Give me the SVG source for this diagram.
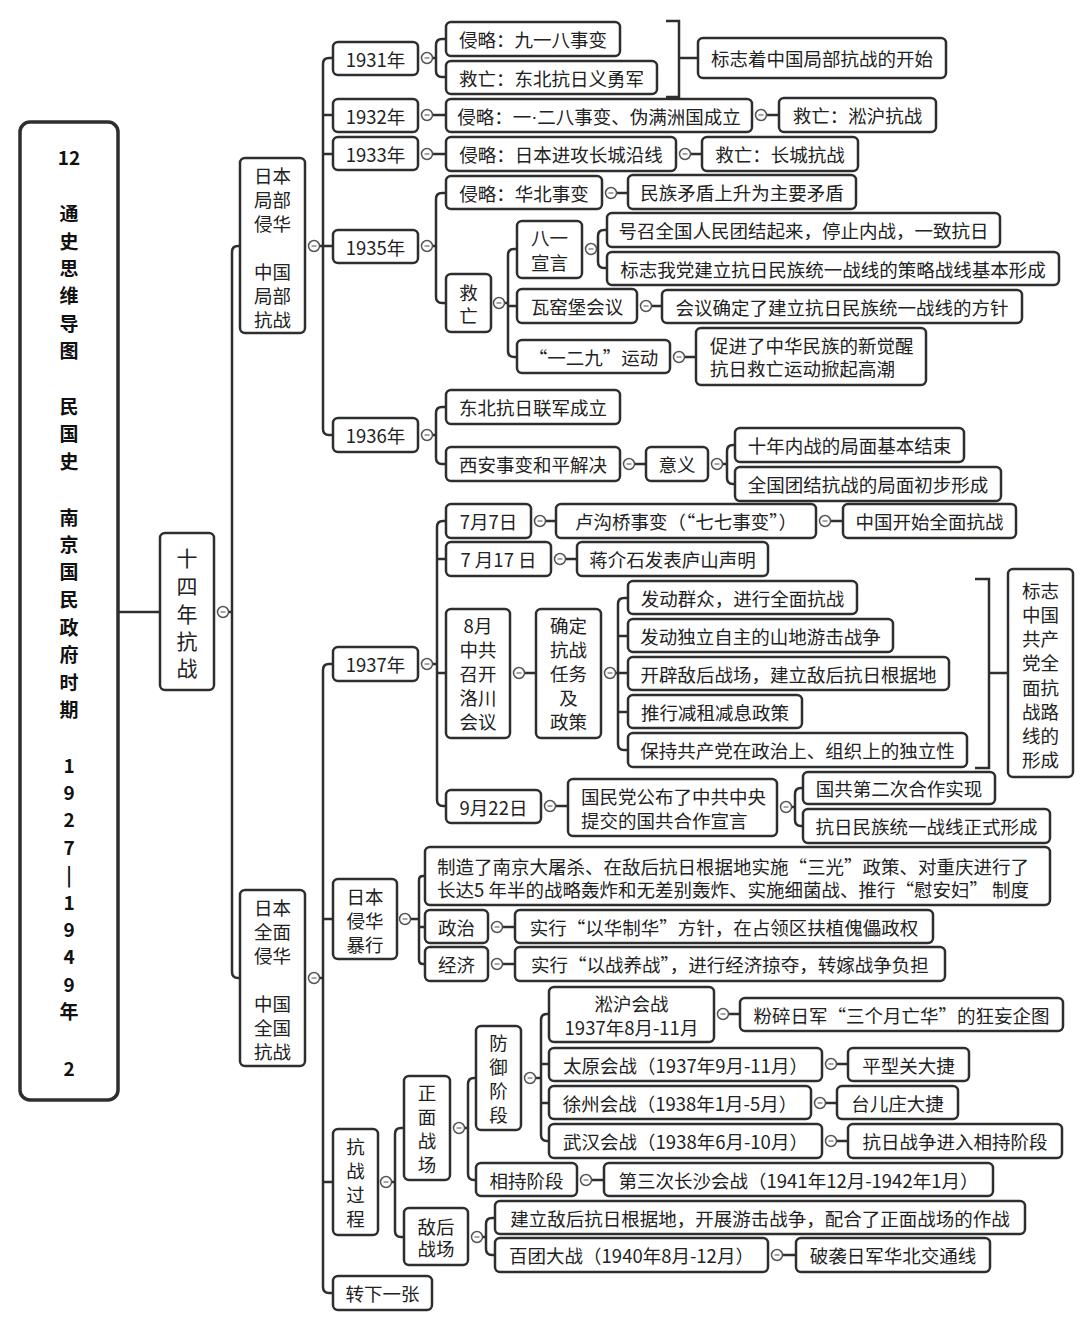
<svg xmlns="http://www.w3.org/2000/svg" xmlns:xlink="http://www.w3.org/1999/xlink" width="1080" height="1329" viewBox="0 0 1080 1329">
<style>
.b{fill:#fff;stroke:#2e2e2e;stroke-width:2.5}
.t{font-family:"Noto Sans CJK SC","Noto Sans",sans-serif;font-size:18.5px;fill:#222;text-anchor:middle;dominant-baseline:central}
.l{text-anchor:start}
.r{font-weight:bold;font-size:19px;fill:#111}
.big{font-size:21px}
.ln{fill:none;stroke:#2e2e2e;stroke-width:2.5}
.tg circle{fill:#fff;stroke:#555;stroke-width:1.5}
.tg line{stroke:#888;stroke-width:1.5}
</style>
<defs>
<g id="tog" class="tg"><circle r="5.5"/><line x1="-2.5" y1="0" x2="2.5" y2="0"/></g>
</defs>
<rect width="1080" height="1329" fill="#fff"/>

<g id="connectors">
<path class="ln" d="M118,612 H160"/>
<path class="ln" d="M228.5,612 H232 M240,246 H238 Q232,246 232,252 V972 Q232,978 238,978 H240"/>
<path class="ln" d="M319.5,246 H323 M333,58 H329 Q323,58 323,64 V429 Q323,435 329,435 H333 M323,115 H333 M323,154 H333 M323,246 H333"/>
<path class="ln" d="M432.5,58 H436 M446,39 H442 Q436,39 436,45 V71 Q436,77 442,77 H446"/>
<path class="ln" d="M666,21 H679 V97 H666 M679,58 H698"/>
<path class="ln" d="M432.5,115 H446 M766.5,115 H779"/>
<path class="ln" d="M432.5,154 H446 M690.5,154 H702"/>
<path class="ln" d="M432.5,246 H436 M446,193 H442 Q436,193 436,199 V297 Q436,303 442,303 H446"/>
<path class="ln" d="M616.5,193 H628"/>
<path class="ln" d="M504.5,303 H508 M517,249 H514 Q508,249 508,255 V351 Q508,357 514,357 H517 M508,306 H517"/>
<path class="ln" d="M596.5,249 H598 M607,230 H604 Q598,230 598,236 V262 Q598,268 604,268 H607"/>
<path class="ln" d="M651.5,306 H662 M684.5,357 H696"/>
<path class="ln" d="M432.5,435 H436 M446,407 H442 Q436,407 436,413 V458 Q436,464 442,464 H446"/>
<path class="ln" d="M634.5,464 H646 M722.5,464 H727 M735,445 H733 Q727,445 727,451 V478 Q727,484 733,484 H735"/>
<path class="ln" d="M319.5,978 H323 M333,664 H329 Q323,664 323,670 V1287 Q323,1293 329,1293 H333 M323,919 H333 M323,1182 H333"/>
<path class="ln" d="M432.5,664 H437 M446,521 H443 Q437,521 437,527 V800 Q437,806 443,806 H446 M437,559 H446 M437,673 H446"/>
<path class="ln" d="M545.5,521 H556 M830.5,521 H843 M565.5,559 H577 M524.5,673 H536"/>
<path class="ln" d="M615.5,673 H618 M628,598 H624 Q618,598 618,604 V744 Q618,750 624,750 H628 M618,636 H628 M618,673 H628 M618,712 H628"/>
<path class="ln" d="M975,579 H989 V768 H975 M989,673 H1008"/>
<path class="ln" d="M555.5,806 H568 M791.5,807 H795 M803,788 H801 Q795,788 795,794 V820 Q795,826 801,826 H803"/>
<path class="ln" d="M410.5,919 H419 M425,876 H423 Q419,876 419,880 V960 Q419,964 423,964 H425 M419,927 H425"/>
<path class="ln" d="M502.5,927 H515 M502.5,964 H515"/>
<path class="ln" d="M391.5,1182 H395 M404,1128 H401 Q395,1128 395,1134 V1231 Q395,1237 401,1237 H404"/>
<path class="ln" d="M464.5,1128 H468 M476,1078 H474 Q468,1078 468,1084 V1174 Q468,1180 474,1180 H476"/>
<path class="ln" d="M535.5,1078 H541 M549,1014 H547 Q541,1014 541,1020 V1135 Q541,1141 547,1141 H549 M541,1064 H549 M541,1103 H549"/>
<path class="ln" d="M728.5,1014 H740 M836.5,1064 H848 M825.5,1103 H837 M836.5,1141 H848 M591.5,1180 H604"/>
<path class="ln" d="M482.5,1237 H486 M495,1218 H492 Q486,1218 486,1224 V1249 Q486,1255 492,1255 H495 M782.5,1255 H796"/>
<use href="#tog" x="223" y="612"/>
<use href="#tog" x="314" y="246"/>
<use href="#tog" x="314" y="978"/>
<use href="#tog" x="427" y="58"/>
<use href="#tog" x="427" y="115"/>
<use href="#tog" x="427" y="154"/>
<use href="#tog" x="427" y="246"/>
<use href="#tog" x="427" y="435"/>
<use href="#tog" x="761" y="115"/>
<use href="#tog" x="685" y="154"/>
<use href="#tog" x="611" y="193"/>
<use href="#tog" x="499" y="303"/>
<use href="#tog" x="591" y="249"/>
<use href="#tog" x="646" y="306"/>
<use href="#tog" x="679" y="357"/>
<use href="#tog" x="629" y="464"/>
<use href="#tog" x="717" y="464"/>
<use href="#tog" x="427" y="664"/>
<use href="#tog" x="540" y="521"/>
<use href="#tog" x="825" y="521"/>
<use href="#tog" x="560" y="559"/>
<use href="#tog" x="519" y="673"/>
<use href="#tog" x="610" y="673"/>
<use href="#tog" x="550" y="806"/>
<use href="#tog" x="786" y="807"/>
<use href="#tog" x="405" y="919"/>
<use href="#tog" x="497" y="927"/>
<use href="#tog" x="497" y="964"/>
<use href="#tog" x="386" y="1182"/>
<use href="#tog" x="459" y="1128"/>
<use href="#tog" x="530" y="1078"/>
<use href="#tog" x="723" y="1014"/>
<use href="#tog" x="831" y="1064"/>
<use href="#tog" x="820" y="1103"/>
<use href="#tog" x="831" y="1141"/>
<use href="#tog" x="586" y="1180"/>
<use href="#tog" x="477" y="1237"/>
<use href="#tog" x="777" y="1255"/>
</g>

<g id="root">
<rect x="20" y="122" width="98" height="978" rx="10" fill="#fff" stroke="#2e2e2e" stroke-width="3.5"/>
<text class="t r" x="69"><tspan x="69" y="156">12</tspan><tspan x="69" y="212">通</tspan><tspan x="69" y="240">史</tspan><tspan x="69" y="267">思</tspan><tspan x="69" y="294">维</tspan><tspan x="69" y="322">导</tspan><tspan x="69" y="349">图</tspan><tspan x="69" y="405">民</tspan><tspan x="69" y="432">国</tspan><tspan x="69" y="460">史</tspan><tspan x="69" y="516">南</tspan><tspan x="69" y="543">京</tspan><tspan x="69" y="570">国</tspan><tspan x="69" y="598">民</tspan><tspan x="69" y="626">政</tspan><tspan x="69" y="653">府</tspan><tspan x="69" y="681">时</tspan><tspan x="69" y="708">期</tspan><tspan x="69" y="764">1</tspan><tspan x="69" y="791">9</tspan><tspan x="69" y="818">2</tspan><tspan x="69" y="846">7</tspan><tspan x="69" y="873">|</tspan><tspan x="69" y="901">1</tspan><tspan x="69" y="928">9</tspan><tspan x="69" y="955">4</tspan><tspan x="69" y="983">9</tspan><tspan x="69" y="1010">年</tspan><tspan x="69" y="1067">2</tspan></text>
</g>

<g id="n-14years">
<rect class="b" x="160" y="533" width="54" height="157" rx="5"/>
<text class="t big"><tspan x="187" y="557">十</tspan><tspan x="187" y="585">四</tspan><tspan x="187" y="613">年</tspan><tspan x="187" y="640">抗</tspan><tspan x="187" y="667">战</tspan></text>
</g>

<g id="n-local">
<rect class="b" x="240" y="158" width="65" height="175" rx="5"/>
<text class="t"><tspan x="272.5" y="175">日本</tspan><tspan x="272.5" y="199">局部</tspan><tspan x="272.5" y="223">侵华</tspan><tspan x="272.5" y="271">中国</tspan><tspan x="272.5" y="295">局部</tspan><tspan x="272.5" y="319">抗战</tspan></text>
</g>

<g id="n-1931">
<rect class="b" x="333" y="42" width="85" height="33" rx="5"/>
<text class="t" x="375.5" y="58.5">1931年</text>
</g>
<g id="n-918">
<rect class="b" x="446" y="22" width="174" height="34" rx="5"/>
<text class="t" x="533" y="39">侵略：九一八事变</text>
</g>
<g id="n-yiyongjun">
<rect class="b" x="446" y="61" width="211" height="33" rx="5"/>
<text class="t" x="551.5" y="77.5">救亡：东北抗日义勇军</text>
</g>
<g id="n-localstart">
<rect class="b" x="698" y="38" width="248" height="40" rx="5"/>
<text class="t" x="822" y="58">标志着中国局部抗战的开始</text>
</g>

<g id="n-1932">
<rect class="b" x="333" y="99" width="85" height="33" rx="5"/>
<text class="t" x="375.5" y="115.5">1932年</text>
</g>
<g id="n-128">
<rect class="b" x="446" y="99" width="306" height="33" rx="5"/>
<text class="t" x="599" y="115.5">侵略：一<tspan font-family="Liberation Sans">·</tspan>二八事变、伪满洲国成立</text>
</g>
<g id="n-songhu">
<rect class="b" x="779" y="98" width="157" height="34" rx="5"/>
<text class="t" x="857.5" y="115">救亡：淞沪抗战</text>
</g>

<g id="n-1933">
<rect class="b" x="333" y="137" width="85" height="33" rx="5"/>
<text class="t" x="375.5" y="153.5">1933年</text>
</g>
<g id="n-greatwall">
<rect class="b" x="446" y="137" width="230" height="34" rx="5"/>
<text class="t" x="561" y="154">侵略：日本进攻长城沿线</text>
</g>
<g id="n-gw-resist">
<rect class="b" x="702" y="137" width="156" height="34" rx="5"/>
<text class="t" x="780" y="154">救亡：长城抗战</text>
</g>

<g id="n-1935">
<rect class="b" x="333" y="230" width="85" height="33" rx="5"/>
<text class="t" x="375.5" y="246.5">1935年</text>
</g>
<g id="n-huabei">
<rect class="b" x="446" y="176" width="156" height="33" rx="5"/>
<text class="t" x="524" y="192.5">侵略：华北事变</text>
</g>
<g id="n-minzu">
<rect class="b" x="628" y="175" width="228" height="34" rx="5"/>
<text class="t" x="742" y="192">民族矛盾上升为主要矛盾</text>
</g>
<g id="n-jiuwang">
<rect class="b" x="446" y="274" width="45" height="58" rx="5"/>
<text class="t"><tspan x="468.5" y="292">救</tspan><tspan x="468.5" y="315">亡</tspan></text>
</g>
<g id="n-81">
<rect class="b" x="517" y="221" width="65" height="57" rx="5"/>
<text class="t"><tspan x="549.5" y="237">八一</tspan><tspan x="549.5" y="262">宣言</tspan></text>
</g>
<g id="n-haozhao">
<rect class="b" x="607" y="213" width="393" height="34" rx="5"/>
<text class="t" x="803.5" y="230">号召全国人民团结起来，停止内战，一致抗日</text>
</g>
<g id="n-celue">
<rect class="b" x="607" y="252" width="452" height="33" rx="5"/>
<text class="t" x="833" y="268.5">标志我党建立抗日民族统一战线的策略战线基本形成</text>
</g>
<g id="n-wayaobao">
<rect class="b" x="517" y="289" width="120" height="34" rx="5"/>
<text class="t" x="577" y="306">瓦窑堡会议</text>
</g>
<g id="n-fangzhen">
<rect class="b" x="662" y="290" width="360" height="33" rx="5"/>
<text class="t" x="842" y="306.5">会议确定了建立抗日民族统一战线的方针</text>
</g>
<g id="n-129">
<rect class="b" x="517" y="340" width="153" height="33" rx="5"/>
<text class="t" x="593.5" y="356.5">“一二九”运动</text>
</g>
<g id="n-juexing">
<rect class="b" x="696" y="328" width="230" height="57" rx="5"/>
<text class="t l"><tspan x="710" y="345">促进了中华民族的新觉醒</tspan><tspan x="710" y="368">抗日救亡运动掀起高潮</tspan></text>
</g>

<g id="n-1936">
<rect class="b" x="333" y="418" width="85" height="34" rx="5"/>
<text class="t" x="375.5" y="435">1936年</text>
</g>
<g id="n-lianjun">
<rect class="b" x="446" y="390" width="174" height="34" rx="5"/>
<text class="t" x="533" y="407">东北抗日联军成立</text>
</g>
<g id="n-xian">
<rect class="b" x="446" y="447" width="174" height="34" rx="5"/>
<text class="t" x="533" y="464">西安事变和平解决</text>
</g>
<g id="n-yiyi">
<rect class="b" x="646" y="447" width="62" height="34" rx="5"/>
<text class="t" x="677" y="464">意义</text>
</g>
<g id="n-neizhan">
<rect class="b" x="735" y="428" width="229" height="34" rx="5"/>
<text class="t" x="849.5" y="445">十年内战的局面基本结束</text>
</g>
<g id="n-tuanjie">
<rect class="b" x="735" y="467" width="266" height="34" rx="5"/>
<text class="t" x="868" y="484">全国团结抗战的局面初步形成</text>
</g>

<g id="n-full">
<rect class="b" x="240" y="890" width="65" height="176" rx="5"/>
<text class="t"><tspan x="272.5" y="907">日本</tspan><tspan x="272.5" y="931">全面</tspan><tspan x="272.5" y="955">侵华</tspan><tspan x="272.5" y="1003">中国</tspan><tspan x="272.5" y="1027">全国</tspan><tspan x="272.5" y="1051">抗战</tspan></text>
</g>

<g id="n-1937">
<rect class="b" x="333" y="647" width="85" height="34" rx="5"/>
<text class="t" x="375.5" y="664">1937年</text>
</g>
<g id="n-77">
<rect class="b" x="446" y="504" width="85" height="34" rx="5"/>
<text class="t" x="488.5" y="521">7月7日</text>
</g>
<g id="n-lugouqiao">
<rect class="b" x="556" y="504" width="260" height="34" rx="5"/>
<text class="t" x="686" y="521">卢沟桥事变（“七七事变”）</text>
</g>
<g id="n-quanmian">
<rect class="b" x="843" y="504" width="173" height="34" rx="5"/>
<text class="t" x="929.5" y="521">中国开始全面抗战</text>
</g>
<g id="n-717">
<rect class="b" x="446" y="542" width="105" height="34" rx="5"/>
<text class="t" x="498.5" y="559">7 月17 日</text>
</g>
<g id="n-lushan">
<rect class="b" x="577" y="542" width="191" height="34" rx="5"/>
<text class="t" x="672.5" y="559">蒋介石发表庐山声明</text>
</g>
<g id="n-luochuan">
<rect class="b" x="446" y="609" width="64" height="129" rx="5"/>
<text class="t"><tspan x="478" y="625">8月</tspan><tspan x="478" y="649">中共</tspan><tspan x="478" y="673">召开</tspan><tspan x="478" y="697">洛川</tspan><tspan x="478" y="721">会议</tspan></text>
</g>
<g id="n-queding">
<rect class="b" x="536" y="609" width="65" height="129" rx="5"/>
<text class="t"><tspan x="568.5" y="625">确定</tspan><tspan x="568.5" y="649">抗战</tspan><tspan x="568.5" y="673">任务</tspan><tspan x="568.5" y="697">及</tspan><tspan x="568.5" y="721">政策</tspan></text>
</g>
<g id="n-qunzhong">
<rect class="b" x="628" y="581" width="229" height="33" rx="5"/>
<text class="t" x="742.5" y="597.5">发动群众，进行全面抗战</text>
</g>
<g id="n-youji">
<rect class="b" x="628" y="619" width="265" height="33" rx="5"/>
<text class="t" x="760.5" y="635.5">发动独立自主的山地游击战争</text>
</g>
<g id="n-dihou">
<rect class="b" x="628" y="657" width="321" height="33" rx="5"/>
<text class="t" x="788.5" y="673.5">开辟敌后战场，建立敌后抗日根据地</text>
</g>
<g id="n-jianzu">
<rect class="b" x="628" y="695" width="174" height="33" rx="5"/>
<text class="t" x="715" y="711.5">推行减租减息政策</text>
</g>
<g id="n-duli">
<rect class="b" x="628" y="733" width="339" height="34" rx="5"/>
<text class="t" x="797.5" y="750">保持共产党在政治上、组织上的独立性</text>
</g>
<g id="n-luxian">
<rect class="b" x="1008" y="569" width="65" height="208" rx="5"/>
<text class="t"><tspan x="1040.5" y="590">标志</tspan><tspan x="1040.5" y="614">中国</tspan><tspan x="1040.5" y="638">共产</tspan><tspan x="1040.5" y="662">党全</tspan><tspan x="1040.5" y="687">面抗</tspan><tspan x="1040.5" y="711">战路</tspan><tspan x="1040.5" y="735">线的</tspan><tspan x="1040.5" y="759">形成</tspan></text>
</g>
<g id="n-922">
<rect class="b" x="446" y="790" width="95" height="33" rx="5"/>
<text class="t" x="493.5" y="806.5">9月22日</text>
</g>
<g id="n-xuanyan">
<rect class="b" x="568" y="779" width="209" height="57" rx="5"/>
<text class="t l"><tspan x="581" y="796">国民党公布了中共中央</tspan><tspan x="581" y="820">提交的国共合作宣言</tspan></text>
</g>
<g id="n-hezuo">
<rect class="b" x="803" y="772" width="192" height="32" rx="5"/>
<text class="t" x="899" y="788">国共第二次合作实现</text>
</g>
<g id="n-tongyi">
<rect class="b" x="803" y="809" width="247" height="34" rx="5"/>
<text class="t" x="926.5" y="826">抗日民族统一战线正式形成</text>
</g>

<g id="n-baoxing">
<rect class="b" x="333" y="879" width="64" height="80" rx="5"/>
<text class="t"><tspan x="365" y="896">日本</tspan><tspan x="365" y="920">侵华</tspan><tspan x="365" y="944">暴行</tspan></text>
</g>
<g id="n-datusha">
<rect class="b" x="425" y="847" width="625" height="58" rx="5"/>
<text class="t l"><tspan x="437" y="866">制造了南京大屠杀、在敌后抗日根据地实施“三光”政策、对重庆进行了</tspan><tspan x="437" y="889">长达5 年半的战略轰炸和无差别轰炸、实施细菌战、推行“慰安妇” 制度</tspan></text>
</g>
<g id="n-zhengzhi">
<rect class="b" x="425" y="910" width="63" height="33" rx="5"/>
<text class="t" x="456.5" y="926.5">政治</text>
</g>
<g id="n-yihua">
<rect class="b" x="515" y="910" width="418" height="33" rx="5"/>
<text class="t" x="724" y="926.5">实行“以华制华”方针，在占领区扶植傀儡政权</text>
</g>
<g id="n-jingji">
<rect class="b" x="425" y="947" width="63" height="34" rx="5"/>
<text class="t" x="456.5" y="964">经济</text>
</g>
<g id="n-yizhan">
<rect class="b" x="515" y="947" width="430" height="34" rx="5"/>
<text class="t" x="730" y="964">实行“以战养战”，进行经济掠夺，转嫁战争负担</text>
</g>

<g id="n-guocheng">
<rect class="b" x="333" y="1129" width="45" height="106" rx="5"/>
<text class="t"><tspan x="355.5" y="1146">抗</tspan><tspan x="355.5" y="1170">战</tspan><tspan x="355.5" y="1194">过</tspan><tspan x="355.5" y="1218">程</tspan></text>
</g>
<g id="n-zhengmian">
<rect class="b" x="404" y="1076" width="46" height="104" rx="5"/>
<text class="t"><tspan x="427" y="1092">正</tspan><tspan x="427" y="1116">面</tspan><tspan x="427" y="1140">战</tspan><tspan x="427" y="1164">场</tspan></text>
</g>
<g id="n-fangyu">
<rect class="b" x="476" y="1026" width="45" height="104" rx="5"/>
<text class="t"><tspan x="498.5" y="1042">防</tspan><tspan x="498.5" y="1066">御</tspan><tspan x="498.5" y="1090">阶</tspan><tspan x="498.5" y="1114">段</tspan></text>
</g>
<g id="n-songhuzhan">
<rect class="b" x="549" y="987" width="165" height="55" rx="5"/>
<text class="t"><tspan x="631.5" y="1003">淞沪会战</tspan><tspan x="631.5" y="1027">1937年8月-11月</tspan></text>
</g>
<g id="n-fensui">
<rect class="b" x="740" y="998" width="323" height="33" rx="5"/>
<text class="t" x="901.5" y="1014.5">粉碎日军“三个月亡华”的狂妄企图</text>
</g>
<g id="n-taiyuan">
<rect class="b" x="549" y="1048" width="273" height="33" rx="5"/>
<text class="t" x="685.5" y="1064.5">太原会战（1937年9月-11月）</text>
</g>
<g id="n-pingxing">
<rect class="b" x="848" y="1048" width="121" height="33" rx="5"/>
<text class="t" x="908.5" y="1064.5">平型关大捷</text>
</g>
<g id="n-xuzhou">
<rect class="b" x="549" y="1086" width="262" height="33" rx="5"/>
<text class="t" x="680" y="1102.5">徐州会战（1938年1月-5月）</text>
</g>
<g id="n-taierzhuang">
<rect class="b" x="837" y="1086" width="121" height="33" rx="5"/>
<text class="t" x="897.5" y="1102.5">台儿庄大捷</text>
</g>
<g id="n-wuhan">
<rect class="b" x="549" y="1124" width="273" height="34" rx="5"/>
<text class="t" x="685.5" y="1141">武汉会战（1938年6月-10月）</text>
</g>
<g id="n-xiangchi-r">
<rect class="b" x="848" y="1124" width="214" height="34" rx="5"/>
<text class="t" x="955" y="1141">抗日战争进入相持阶段</text>
</g>
<g id="n-xiangchi">
<rect class="b" x="476" y="1163" width="101" height="33" rx="5"/>
<text class="t" x="526.5" y="1179.5">相持阶段</text>
</g>
<g id="n-changsha">
<rect class="b" x="604" y="1163" width="389" height="33" rx="5"/>
<text class="t" x="798.5" y="1179.5">第三次长沙会战（1941年12月-1942年1月）</text>
</g>
<g id="n-dihouzc">
<rect class="b" x="404" y="1208" width="64" height="57" rx="5"/>
<text class="t"><tspan x="436" y="1226">敌后</tspan><tspan x="436" y="1248">战场</tspan></text>
</g>
<g id="n-genjudi">
<rect class="b" x="495" y="1201" width="530" height="33" rx="5"/>
<text class="t" x="760" y="1217.5">建立敌后抗日根据地，开展游击战争，配合了正面战场的作战</text>
</g>
<g id="n-baituan">
<rect class="b" x="495" y="1238" width="273" height="34" rx="5"/>
<text class="t" x="631.5" y="1255">百团大战（1940年8月-12月）</text>
</g>
<g id="n-poxi">
<rect class="b" x="796" y="1238" width="194" height="34" rx="5"/>
<text class="t" x="893" y="1255">破袭日军华北交通线</text>
</g>
<g id="n-next">
<rect class="b" x="333" y="1276" width="99" height="34" rx="5"/>
<text class="t" x="382.5" y="1293">转下一张</text>
</g>
</svg>
